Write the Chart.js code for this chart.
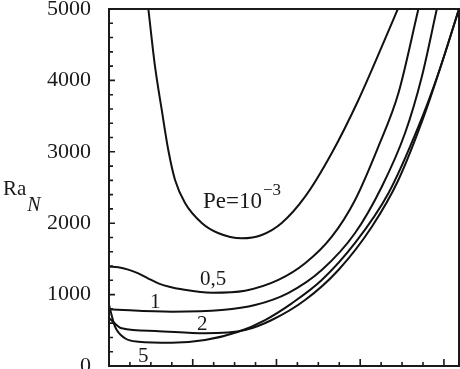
<!DOCTYPE html>
<html>
<head>
<meta charset="utf-8">
<script src="https://cdn.jsdelivr.net/npm/chart.js@4/dist/chart.umd.min.js"></script>
<style>
  html, body { margin: 0; padding: 0; background: #fff; }
  #caja { width: 460px; height: 369px; }
</style>
</head>
<body>
<div id="caja"><canvas id="grafico"></canvas></div>
<script>
// === Datos de las curvas (Ra_N frente al número de onda) ===
const pe1e3X = [0.470, 0.550, 0.630, 0.708, 0.789, 0.908, 1.108, 1.302, 1.585, 1.824, 2.063, 2.342, 2.661, 2.979, 3.258, 3.449];
const pe1e3Y = [5000, 4192, 3586, 3025, 2605, 2283, 2003, 1863, 1789, 1835, 2003, 2371, 2983, 3726, 4472, 5000];

const pe05X = [0, 0.111, 0.23, 0.35, 0.47, 0.589, 0.72, 0.869, 1.227, 1.625, 2.023, 2.342, 2.661, 2.939, 3.217, 3.456, 3.695];
const pe05Y = [1391, 1382, 1350, 1298, 1225, 1158, 1110, 1074, 1027, 1055, 1205, 1438, 1811, 2325, 3072, 3819, 5000];

const pe1X = [0, 0.749, 1.347, 1.744, 2.139, 2.541, 2.939, 3.258, 3.536, 3.736, 3.915];
const pe1Y = [794, 760, 784, 854, 1022, 1345, 1863, 2511, 3263, 4052, 5000];

const pe2X = [0, 0.152, 0.550, 1.147, 1.625, 1.944, 2.342, 2.740, 3.139, 3.456, 3.775, 4.014, 4.18];
const pe2Y = [672, 528, 490, 458, 504, 644, 924, 1345, 1951, 2605, 3544, 4384, 5000];

const pe5X = [0, 0.072, 0.191, 0.350, 0.749, 1.147, 1.545, 1.864, 2.183, 2.541, 2.939, 3.337, 3.695, 3.934, 4.18];
const pe5Y = [854, 550, 388, 340, 326, 364, 480, 644, 878, 1204, 1723, 2419, 3352, 4100, 5000];

// etiquetas de las curvas: texto, x, y (línea base)
const etiquetas = [
  { texto: '0,5', x: 1.087, y: 1134 },
  { texto: '1', x: 0.490, y: 812 },
  { texto: '2', x: 1.051, y: 504 },
  { texto: '5', x: 0.346, y: 56 }
];
const etiquetaPe = { texto: 'Pe=10', exp: '\u22123', x: 1.123, y: 2213 };

// marcas de los ejes
const xMax = 4.18;
const xMarcasMayores = [0, 1, 2, 3, 4];
const xMarcasMenores = [0.25, 0.5, 0.75, 1.25, 1.5, 1.75, 2.25, 2.5, 2.75, 3.25, 3.5, 3.75];
const yMarcasMayores = [0, 1000, 2000, 3000, 4000, 5000];
const yMarcasMenores = [];
for (let v = 200; v < 5000; v += 200) if (v % 1000 !== 0) yMarcasMenores.push(v);

const fuente = '"Liberation Serif", "Times New Roman", serif';
const tinta = '#1a1a1a';

const puntos = (xs, ys) => xs.map((x, i) => ({ x: x, y: ys[i] }));

const serie = (nombre, xs, ys) => ({
  label: nombre,
  data: puntos(xs, ys),
  borderColor: '#111',
  borderWidth: 2,
  pointRadius: 0,
  fill: false,
  cubicInterpolationMode: 'monotone'
});

// === Marco, marcas internas y textos ===
const decorado = {
  id: 'decorado',
  afterDatasetsDraw(chart) {
    const { ctx, chartArea: a, scales: { x, y } } = chart;
    ctx.save();
    ctx.strokeStyle = tinta;
    ctx.lineWidth = 2;
    ctx.strokeRect(a.left, a.top, a.right - a.left, a.bottom - a.top);

    ctx.lineWidth = 1.6;
    ctx.beginPath();
    xMarcasMayores.forEach(v => { const p = x.getPixelForValue(v); ctx.moveTo(p, a.bottom); ctx.lineTo(p, a.bottom - 7); });
    xMarcasMenores.forEach(v => { const p = x.getPixelForValue(v); ctx.moveTo(p, a.bottom); ctx.lineTo(p, a.bottom - 4); });
    yMarcasMayores.forEach(v => { const p = y.getPixelForValue(v); ctx.moveTo(a.left, p); ctx.lineTo(a.left + 6, p); });
    yMarcasMenores.forEach(v => { const p = y.getPixelForValue(v); ctx.moveTo(a.left, p); ctx.lineTo(a.left + 4, p); });
    ctx.stroke();

    ctx.fillStyle = tinta;
    ctx.textAlign = 'left';
    ctx.textBaseline = 'alphabetic';
    ctx.font = '21px ' + fuente;
    etiquetas.forEach(e => ctx.fillText(e.texto, x.getPixelForValue(e.x), y.getPixelForValue(e.y)));

    const px = x.getPixelForValue(etiquetaPe.x), py = y.getPixelForValue(etiquetaPe.y);
    ctx.font = '23px ' + fuente;
    ctx.fillText(etiquetaPe.texto, px, py);
    const w = ctx.measureText(etiquetaPe.texto).width;
    ctx.font = '17px ' + fuente;
    ctx.fillText(etiquetaPe.exp, px + w + 1, py - 13);

    // título del eje Y: Ra con subíndice N
    ctx.font = '21px ' + fuente;
    ctx.fillText('Ra', 3, 195);
    const wr = ctx.measureText('Ra').width;
    ctx.font = 'italic 20px ' + fuente;
    ctx.fillText('N', 3 + wr + 1, 211);
    ctx.restore();
  }
};

new Chart(document.getElementById('grafico'), {
  type: 'line',
  data: {
    datasets: [
      serie('Pe=10^-3', pe1e3X, pe1e3Y),
      serie('0,5', pe05X, pe05Y),
      serie('1', pe1X, pe1Y),
      serie('2', pe2X, pe2Y),
      serie('5', pe5X, pe5Y)
    ]
  },
  options: {
    responsive: true,
    maintainAspectRatio: false,
    animation: false,
    layout: { padding: { top: 9, right: 1, bottom: 3, left: 0 } },
    plugins: {
      legend: { display: false },
      tooltip: { enabled: false }
    },
    scales: {
      x: { type: 'linear', min: 0, max: xMax, display: false },
      y: {
        type: 'linear',
        min: 0,
        max: 5000,
        grid: { display: false },
        border: { display: false },
        ticks: {
          stepSize: 1000,
          padding: 10,
          color: tinta,
          font: { family: fuente, size: 22 },
          callback: v => String(v)
        },
        afterFit: s => { s.width = 109; s.paddingTop = 0; s.paddingBottom = 0; }
      }
    }
  },
  plugins: [decorado]
});
</script>
</body>
</html>
